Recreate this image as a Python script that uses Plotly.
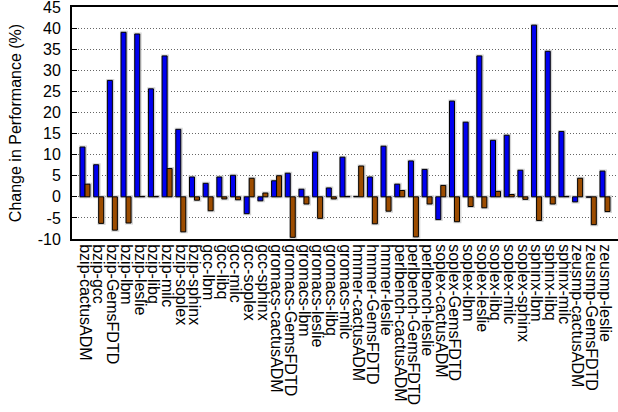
import plotly.graph_objects as go

categories = [
    "bzip-cactusADM", "bzip-gcc", "bzip-GemsFDTD", "bzip-lbm", "bzip-leslie",
    "bzip-libq", "bzip-milc", "bzip-soplex", "bzip-sphinx", "gcc-lbm",
    "gcc-libq", "gcc-milc", "gcc-soplex", "gcc-sphinx", "gromacs-cactusADM",
    "gromacs-GemsFDTD", "gromacs-lbm", "gromacs-leslie", "gromacs-libq", "gromacs-milc",
    "hmmer-cactusADM", "hmmer-GemsFDTD", "hmmer-leslie", "perlbench-cactusADM", "perlbench-GemsFDTD",
    "perlbench-leslie", "soplex-cactusADM", "soplex-GemsFDTD", "soplex-lbm", "soplex-leslie",
    "soplex-libq", "soplex-milc", "soplex-sphinx", "sphinx-lbm", "sphinx-libq",
    "sphinx-milc", "zeusmp-cactusADM", "zeusmp-GemsFDTD", "zeusmp-leslie",
]

series_a = [
    11.8, 7.6, 27.6, 39.0, 38.6,
    25.6, 33.4, 16.0, 4.7, 3.2,
    4.7, 5.1, -4.0, -0.95, 3.8,
    5.6, 1.8, 10.6, 2.1, 9.4,
    0.1, 4.7, 12.0, 3.0, 8.5,
    6.5, -5.4, 22.7, 17.7, 33.4,
    13.4, 14.6, 6.3, 40.7, 34.5,
    15.5, -1.2, -0.1, 6.1,
]

series_b = [
    3.0, -6.3, -7.9, -6.2, 0.1,
    0.1, 6.7, -8.3, -0.8, -3.3,
    -0.5, -0.7, 4.4, 0.9, 5.0,
    -9.6, -1.7, -5.1, -0.5, 0.1,
    7.3, -6.4, -3.4, 1.5, -9.5,
    -1.7, 2.7, -5.9, -2.3, -2.6,
    1.3, 0.55, -0.6, -5.6, -1.7,
    0.1, 4.4, -6.6, -3.5,
]

y_ticks = list(range(-10, 50, 5))

x_idx = list(range(len(categories)))

BAR_W = 0.365
series_list = [(series_a, "#0000f0", -BAR_W), (series_b, "#9c4c00", 0.0)]

fig = go.Figure()
# soft grey halo behind each bar
for vals, col, off in series_list:
    fig.add_trace(go.Bar(
        x=x_idx, y=vals, width=BAR_W, offset=off + 0.03,
        marker=dict(color="#d4d4d4", line=dict(color="#d4d4d4", width=3)),
        hoverinfo="skip",
    ))
for vals, col, off in series_list:
    fig.add_trace(go.Bar(
        x=x_idx, y=vals, width=BAR_W, offset=off,
        marker=dict(color=col, line=dict(color="black", width=1)),
    ))

fig.update_layout(
    width=618, height=412,
    margin=dict(l=72, r=0, t=7, b=173),
    paper_bgcolor="white", plot_bgcolor="white",
    barmode="overlay",
    showlegend=False,
    font=dict(family="Liberation Sans, Arial, sans-serif", size=16, color="black"),
)
fig.update_xaxes(
    range=[-0.95, len(categories) - 0.05],
    tickmode="array", tickvals=x_idx, ticktext=categories,
    tickangle=90, tickfont=dict(size=16), automargin=False,
    ticklabeloverflow="allow",
    showline=True, linecolor="black", linewidth=2, mirror=True,
    showgrid=False, ticks="", zeroline=False,
)
fig.update_yaxes(
    range=[-10, 45], automargin=False,
    tickmode="array", tickvals=y_ticks, ticktext=[str(v) for v in y_ticks],
    tickfont=dict(size=16), ticklabeloverflow="allow", ticklabelstandoff=6,
    showline=True, linecolor="black", linewidth=2, mirror=True,
    showgrid=True, gridcolor="#666666", griddash="1px,2px", gridwidth=1,
    zeroline=False, ticks="inside", ticklen=5, tickcolor="black",
    title=dict(text="Change in Performance (%)", font=dict(size=16), standoff=12),
)

fig.write_html(
    "out.html",
    config={"displayModeBar": False},
    post_script="document.body.style.margin='0px'; document.body.style.overflow='hidden';",
)
